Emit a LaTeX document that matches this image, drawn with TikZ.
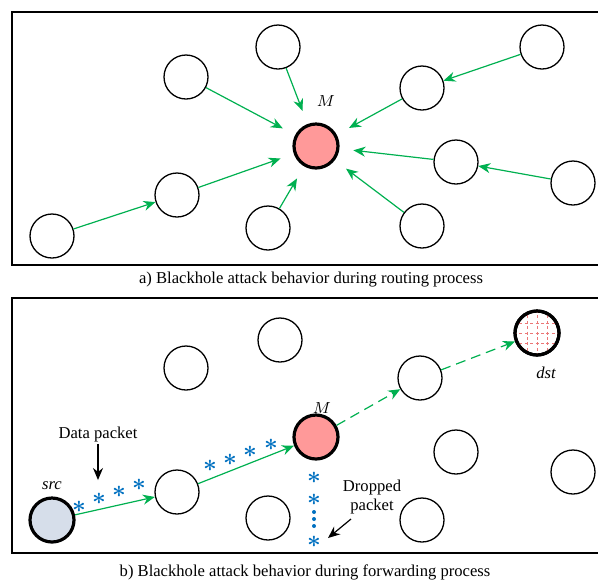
\documentclass[tikz,border=0pt]{standalone}
\usepackage{fontspec}
\setmainfont{Liberation Serif}
\usepackage{tikz}
\usetikzlibrary{positioning}
\usetikzlibrary{arrows.meta}
\definecolor{lnkgreen}{RGB}{0,176,80}
\definecolor{mpink}{RGB}{255,153,153}
\definecolor{srcgray}{RGB}{214,222,234}
\definecolor{pktblue}{RGB}{0,112,192}
\definecolor{gridpink}{RGB}{235,120,120}
\tikzstyle{nd} = [circle, draw=black, line width=0.65pt, minimum size=22pt, inner sep=0pt]
\tikzstyle{nd_m} = [nd, fill=mpink, line width=1.6pt]
\tikzstyle{nd_s} = [nd, fill=srcgray, line width=1.6pt]
\tikzstyle{lnk} = [draw=lnkgreen, line width=0.6pt, -{Stealth[length=6pt,width=5pt]}]
\tikzstyle{lnk_m} = [lnk, shorten >=7pt]
\tikzstyle{pkt} = [text=pktblue, inner sep=0pt, font=\fontsize{12.5}{12.5}\selectfont\boldmath]
\tikzstyle{lbl} = [inner sep=1pt, font=\fontsize{8.3}{9.8}\selectfont]

\begin{document}
\begin{tikzpicture}[x=0.5pt, y=-0.5pt]
\useasboundingbox (0,0) rectangle (598,580);
% a) routing
\draw[line width=0.7pt] (12,12) rectangle (603,265);
\node [nd] (a1) at (52,236) {};
\node [nd] (a2) at (177,195) {};
\node [nd] (a3) at (186,77) {};
\node [nd] (a4) at (278,47) {};
\node [nd_m] (am) at (316,146) {};
\node [nd] (a5) at (268,228) {};
\node [nd] (a6) at (422,88) {};
\node [nd] (a7) at (542,47) {};
\node [nd] (a8) at (456,162) {};
\node [nd] (a9) at (573,183) {};
\node [nd] (a10) at (422,226) {};
\node [lbl] (amlab) at (326,101) {$M$};
\draw [lnk] (a1) -- (a2);
\draw [lnk_m] (a2) -- (am);
\draw [lnk_m] (a3) -- (am);
\draw [lnk_m] (a4) -- (am);
\draw [lnk_m] (a5) -- (am);
\draw [lnk_m] (a6) -- (am);
\draw [lnk] (a7) -- (a6);
\draw [lnk_m] (a8) -- (am);
\draw [lnk] (a9) -- (a8);
\draw [lnk_m] (a10) -- (am);
\node [lbl] (capa) at (311,280) {a) Blackhole attack behavior during routing process};

% b) forwarding
\draw[line width=0.7pt] (12,298) rectangle (603,553);
\node [nd] (b1) at (280,340) {};
\node [nd] (b2) at (186,368) {};
\node [nd] (b3) at (420,378) {};
\node [nd_m] (bm) at (316,437) {};
\node [nd_s] (src) at (52,520) {};
\node [nd] (b4) at (177,492) {};
\node [nd] (b5) at (268,518) {};
\node [nd] (b6) at (456,452) {};
\node [nd] (b7) at (573,472) {};
\node [nd] (b8) at (422,520) {};
\node [nd, line width=1.6pt] (dst) at (537,333) {};
\begin{scope}
  \clip (dst) circle (10.5pt);
  \foreach \d in {-10,0,10} {
    \draw[gridpink, line width=0.35pt, dash pattern=on 1.5pt off 1.2pt] (537+\d,310) -- (537+\d,356);
    \draw[gridpink, line width=0.35pt, dash pattern=on 1.5pt off 1.2pt] (514,333+\d) -- (560,333+\d);
  }
\end{scope}
\node [nd, line width=1.6pt] (dstc) at (dst) {};
\node [lbl] (bmlab) at (322,408) {$M$};
\node [lbl] (srclab) at (52,486) {\itshape src};
\node [lbl] (dstlab) at (546,373) {\itshape dst};
\draw [lnk] (src) -- (b4);
\draw [lnk] (b4) -- (bm);
\draw [lnk, dash pattern=on 5pt off 3pt] (bm) -- (b3);
\draw [lnk, dash pattern=on 5pt off 3pt] (b3) -- (dst);
% packets
\node [pkt] (p1) at (79,507) {$\ast$};
\node [pkt] (p2) at (99,499) {$\ast$};
\node [pkt] (p3) at (119,492) {$\ast$};
\node [pkt] (p4) at (139,485) {$\ast$};
\node [pkt] (p5) at (210,466) {$\ast$};
\node [pkt] (p6) at (230,460) {$\ast$};
\node [pkt] (p7) at (250,452) {$\ast$};
\node [pkt] (p8) at (271,445) {$\ast$};
\node [pkt] (d1) at (314,478) {$\ast$};
\node [pkt] (d2) at (314,500) {$\ast$};
\node [pkt] (d3) at (314,542) {$\ast$};
\foreach \y in {512,519,526}
  \fill[pktblue] (314,\y) circle (1pt);
\node [lbl] (dlab) at (98,434) {Data packet};
\draw [-{Stealth[length=6pt,width=5pt]}, line width=0.6pt] (dlab.south) -- (98,480);
\node [lbl, align=center] (dplab) at (372,497) {Dropped\\packet};
\coordinate (dpend) at (328,538);
\draw [-{Stealth[length=6pt,width=5pt]}, line width=0.6pt] (351,519) -- (dpend);
\node [lbl] (capb) at (305,572) {b) Blackhole attack behavior during forwarding process};
\end{tikzpicture}
\end{document}
